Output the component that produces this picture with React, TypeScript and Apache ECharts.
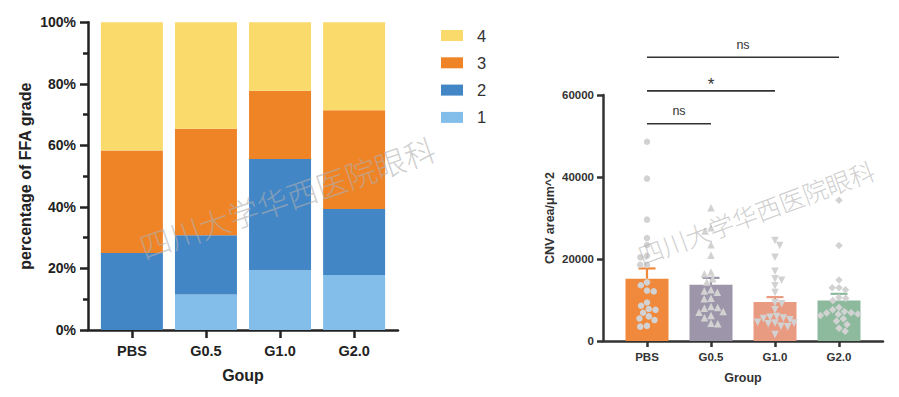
import React, { useEffect, useRef } from "react";
import * as echarts from "echarts";

// ---------- data ----------
const groups = ["PBS", "G0.5", "G1.0", "G2.0"];
const gradeNames = ["1", "2", "3", "4"];
const grade1 = [0, 11.54, 19.44, 17.86];
const grade2 = [25.0, 19.23, 36.11, 21.43];
const grade3 = [33.33, 34.62, 22.22, 32.14];
const grade4 = [41.67, 34.61, 22.23, 28.57];

const cnvMean = [15200, 13700, 9500, 9900];
const cnvSem = [2500, 1700, 1200, 1600];
const pbsPoints = [48600, 39600, 29600, 25100, 23400, 20800, 20400, 18600, 18600, 14300, 13600, 12300, 12100, 9400, 8600, 7800, 7600, 6900, 6000, 5500, 5100, 3700, 3500];
const g05Points = [32500, 27600, 26800, 23500, 20900, 16800, 16400, 15200, 14400, 12500, 12200, 11900, 10400, 10300, 8400, 8200, 8000, 7200, 7000, 6200, 5700, 4300, 4200];
const g10Points = [24500, 23300, 20400, 17000, 15200, 14800, 13500, 11800, 9300, 9100, 7600, 6000, 5800, 5600, 5500, 5200, 4600, 4400, 4400, 4200, 3600, 3500, 1600];
const g20Points = [34300, 23300, 14900, 13000, 13000, 12500, 10600, 10400, 9900, 8200, 7600, 7200, 6900, 6800, 6600, 6500, 6200, 5400, 4900, 4000, 3100, 2400];
const compFrom = [0, 0, 0];
const compTo = [1, 2, 3];
const compLevel = [53000, 61000, 69200];
const compLabel = ["ns", "*", "ns"];
const watermark = "四川大学华西医院眼科";

// ---------- styles ----------
const FONT = "'Liberation Sans', Arial, sans-serif";
const CJK = "'Noto Sans CJK SC Light', 'Noto Sans CJK SC DemiLight', 'Noto Sans CJK SC', sans-serif";
const gradeColors = ["#83BDE9", "#4386C6", "#EF8427", "#FBDA6C"];
const barColors = ["#F0893B", "#9D95A9", "#E99B82", "#8DBA9D"];
const dotColor = "#D2D2D2";

// beeswarm offsets (pixels) computed from the values
function swarmOffsets(vals: number[], pxPerY: number, diam: number, maxOff: number): number[] {
  const order = vals.map((_, i) => i).sort((a, b) => vals[b] - vals[a]);
  const placed: { x: number; y: number }[] = [];
  const out = new Array(vals.length).fill(0);
  let flip = 1;
  for (const i of order) {
    const y = vals[i] * pxPerY;
    const intervals: number[][] = [];
    for (const p of placed) {
      const dy = Math.abs(p.y - y);
      if (dy < diam) {
        const w = Math.sqrt(diam * diam - dy * dy);
        intervals.push([p.x - w, p.x + w]);
      }
    }
    const cands = [0];
    intervals.forEach(([a, b]) => cands.push(a, b));
    cands.sort((a, b) => Math.abs(a) - Math.abs(b) || (a - b) * flip);
    flip = -flip;
    let x = 0;
    for (const c of cands) {
      if (intervals.every(([a, b]) => c <= a + 1e-6 || c >= b - 1e-6)) {
        x = c;
        break;
      }
    }
    if (Math.abs(x) > maxOff) x = Math.sign(x) * maxOff;
    placed.push({ x, y });
    out[i] = x;
  }
  return out;
}

export default function App() {
  const ref = useRef<HTMLDivElement>(null);

  useEffect(() => {
    document.body.style.margin = "0";
    if (!ref.current) return;
    const chart = echarts.init(ref.current, null, { renderer: "svg" });

    const rightH = 246;
    const pxPerY = rightH / 60000;
    const pxPerX = 64;
    const pointSets = [pbsPoints, g05Points, g10Points, g20Points];
    const symbols = ["circle", "triangle", "triangle", "diamond"];
    const symbolRot = [0, 0, 180, 0];
    const symbolSizes = [6.5, 7.5, 7.5, 7.5];

    const scatterSeries = pointSets.map((pts, gi) => {
      const offs = swarmOffsets(pts, pxPerY, 6.8, 19);
      return {
        type: "scatter",
        xAxisIndex: 1,
        yAxisIndex: 1,
        symbol: symbols[gi],
        symbolRotate: symbolRot[gi],
        symbolSize: symbolSizes[gi],
        itemStyle: { color: dotColor, opacity: 1 },
        data: pts.map((v, k) => [gi + offs[k] / pxPerX, v]),
        z: 4,
      };
    });

    const gradeData = [grade1, grade2, grade3, grade4];
    // cumulative stacking computed from the grade arrays
    const stackSeries = gradeData.map((arr, gi) => {
      const data = arr.map((v, i) => {
        let below = 0;
        for (let g = 0; g < gi; g++) below += gradeData[g][i];
        return [i, below, below + v];
      });
      return {
        name: gradeNames[gi],
        type: "custom",
        xAxisIndex: 0,
        yAxisIndex: 0,
        itemStyle: { color: gradeColors[gi] },
        encode: { x: 0, y: [1, 2] },
        data,
        renderItem: (params: any, api: any) => {
          const lo = api.coord([api.value(0), api.value(1)]);
          const hi = api.coord([api.value(0), api.value(2)]);
          return {
            type: "rect",
            shape: { x: lo[0] - 31, y: hi[1], width: 62, height: lo[1] - hi[1] },
            style: { fill: gradeColors[gi] },
          };
        },
      };
    });

    const option: any = {
      animation: false,
      textStyle: { fontFamily: FONT },
      legend: {
        orient: "vertical",
        left: 441,
        top: 27,
        padding: 0,
        itemWidth: 22,
        itemHeight: 11,
        itemGap: 10.3,
        icon: "rect",
        selectedMode: false,
        data: ["4", "3", "2", "1"],
        textStyle: { fontSize: 16.5, color: "#333", lineHeight: 16, padding: [0, 0, 0, 9], fontFamily: FONT },
      },
      grid: [
        { left: 88, top: 22.3, width: 310, height: 307.7 },
        { left: 603, top: 95, width: 280, height: rightH },
      ],
      xAxis: [
        {
          type: "value",
          gridIndex: 0,
          min: -0.5925,
          max: 3.5925,
          splitLine: { show: false },
          axisLine: { show: true, onZero: false, lineStyle: { color: "#222", width: 2.5 } },
          axisTick: { show: true, customValues: [0, 1, 2, 3], length: 8, lineStyle: { color: "#222", width: 2.5 } },
          axisLabel: {
            customValues: [0, 1, 2, 3],
            formatter: (v: number) => groups[Math.round(v)],
            fontSize: 14.5,
            fontWeight: "bold",
            color: "#222",
            margin: 13,
          },
          name: "Goup",
          nameLocation: "middle",
          nameGap: 37,
          nameTextStyle: { fontSize: 16, fontWeight: "bold", color: "#222" },
        },
        {
          type: "value",
          gridIndex: 1,
          min: -0.6875,
          max: 3.6875,
          splitLine: { show: false },
          axisLine: { show: true, onZero: false, lineStyle: { color: "#333", width: 2.5 } },
          axisTick: { show: true, customValues: [0, 1, 2, 3], length: 6, lineStyle: { color: "#333", width: 2.5 } },
          axisLabel: {
            customValues: [0, 1, 2, 3],
            formatter: (v: number) => groups[Math.round(v)],
            fontSize: 11.5,
            fontWeight: "bold",
            color: "#333",
            margin: 10,
          },
          name: "Group",
          nameLocation: "middle",
          nameGap: 30,
          nameTextStyle: { fontSize: 12.5, fontWeight: "bold", color: "#333" },
        },
      ],
      yAxis: [
        {
          type: "value",
          gridIndex: 0,
          min: 0,
          max: 100,
          interval: 20,
          splitLine: { show: false },
          axisLine: { show: true, onZero: false, lineStyle: { color: "#222", width: 2.5 } },
          axisTick: { show: true, length: 8, lineStyle: { color: "#222", width: 2.5 } },
          minorTick: { show: true, splitNumber: 2, length: 5, lineStyle: { color: "#222", width: 2.5 } },
          axisLabel: { formatter: "{value}%", fontSize: 14, fontWeight: "bold", color: "#222", margin: 12 },
          name: "percentage of FFA grade",
          nameLocation: "middle",
          nameGap: 55,
          nameTextStyle: { fontSize: 16, fontWeight: "bold", color: "#222" },
        },
        {
          type: "value",
          gridIndex: 1,
          min: 0,
          max: 60000,
          interval: 20000,
          splitLine: { show: false },
          axisLine: { show: true, onZero: false, lineStyle: { color: "#333", width: 2.5 } },
          axisTick: { show: true, length: 6, lineStyle: { color: "#333", width: 2.5 } },
          axisLabel: { formatter: (v: number) => String(v), fontSize: 11.5, fontWeight: "bold", color: "#333", margin: 9 },
          name: "CNV area/μm^2",
          nameLocation: "middle",
          nameGap: 47,
          nameTextStyle: { fontSize: 12.5, fontWeight: "bold", color: "#333" },
        },
      ],
      series: [
        ...stackSeries,
        {
          type: "bar",
          xAxisIndex: 1,
          yAxisIndex: 1,
          barWidth: 43,
          data: cnvMean.map((v, i) => ({ value: [i, v], itemStyle: { color: barColors[i] } })),
          z: 2,
        },
        {
          type: "custom",
          xAxisIndex: 1,
          yAxisIndex: 1,
          z: 3,
          data: cnvMean.map((m, i) => [i, m, m + cnvSem[i]]),
          encode: { x: 0, y: [1, 2] },
          renderItem: (params: any, api: any) => {
            const i = api.value(0);
            const base = api.coord([i, api.value(1)]);
            const top = api.coord([i, api.value(2)]);
            const col = barColors[params.dataIndex];
            return {
              type: "group",
              children: [
                { type: "line", shape: { x1: base[0], y1: base[1], x2: top[0], y2: top[1] }, style: { stroke: col, lineWidth: 2.2 } },
                { type: "line", shape: { x1: top[0] - 8.5, y1: top[1], x2: top[0] + 8.5, y2: top[1] }, style: { stroke: col, lineWidth: 2.2 } },
              ],
            };
          },
        },
        ...scatterSeries,
        {
          type: "custom",
          xAxisIndex: 1,
          yAxisIndex: 1,
          clip: false,
          z: 5,
          data: compFrom.map((f, k) => [f, compTo[k], compLevel[k]]),
          encode: { x: [0, 1], y: 2 },
          renderItem: (params: any, api: any) => {
            const k = params.dataIndex;
            const p1 = api.coord([api.value(0), api.value(2)]);
            const p2 = api.coord([api.value(1), api.value(2)]);
            const lbl = compLabel[k];
            const isStar = lbl === "*";
            return {
              type: "group",
              children: [
                { type: "line", shape: { x1: p1[0], y1: p1[1], x2: p2[0], y2: p2[1] }, style: { stroke: "#333", lineWidth: 1.6 } },
                {
                  type: "text",
                  x: (p1[0] + p2[0]) / 2,
                  y: p1[1] - (isStar ? 6.5 : 12.5),
                  style: {
                    text: lbl,
                    fontSize: isStar ? 17 : 12.5,
                    fontFamily: FONT,
                    fill: "#333",
                    align: "center",
                    verticalAlign: "middle",
                  },
                },
              ],
            };
          },
        },
      ],
      graphic: [
        {
          type: "text",
          x: 287,
          y: 197,
          rotation: (18.9 * Math.PI) / 180,
          z: 100,
          silent: true,
          style: {
            text: watermark,
            fontSize: 31,
            fontWeight: 300,
            fontFamily: CJK,
            fill: "rgba(175,175,175,0.6)",
            align: "center",
            verticalAlign: "middle",
          },
        },
        {
          type: "text",
          x: 756,
          y: 212,
          rotation: (20.4 * Math.PI) / 180,
          z: 100,
          silent: true,
          style: {
            text: watermark,
            fontSize: 25,
            fontWeight: 300,
            fontFamily: CJK,
            fill: "rgba(175,175,175,0.6)",
            align: "center",
            verticalAlign: "middle",
          },
        },
      ],
    };

    chart.setOption(option);
    return () => chart.dispose();
  }, []);

  return <div ref={ref} style={{ position: "absolute", left: 0, top: 0, width: 899, height: 397 }} />;
}
